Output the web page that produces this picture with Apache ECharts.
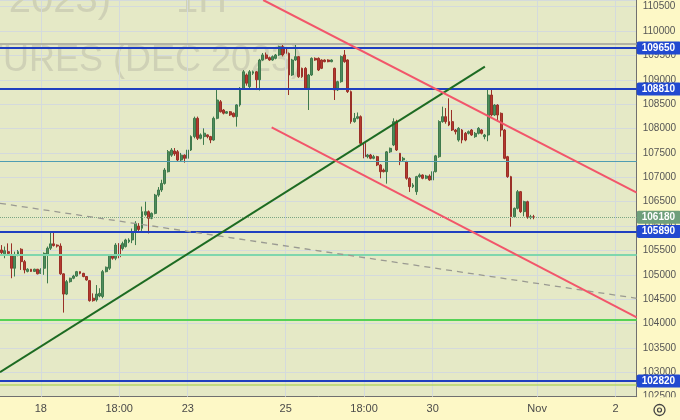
<!DOCTYPE html>
<html><head><meta charset="utf-8">
<script src="https://cdn.jsdelivr.net/npm/echarts@6/dist/echarts.min.js"></script>
<style>html,body{margin:0;padding:0;background:#fdf8c6;}#c{width:680px;height:420px;}</style>
</head><body><div id="c"></div>
<script>
// ---- data ----
const N_SLOTS = 195;
// [open, close, low, high]
const candles = [
[105510,105455,105420,105610],[105430,105495,105340,105580],[105475,105440,105420,105645],[105405,105135,104930,105645],
[105135,105405,104965,105475],[105405,105475,105380,105510],[105525,105270,105100,105545],[105270,105100,105030,105305],
[105070,105115,105050,105135],[105115,105070,105060,105120],[105070,105115,105060,105125],[105115,105020,105010,105120],
[105030,105100,105020,105135],[105135,105440,105000,105460],[105405,105545,104825,105580],[105545,105635,105510,105885],
[105635,105600,105580,105885],[105610,105590,105560,105625],[105590,105020,105000,105645],[105020,104605,104225,105030],
[104605,104860,104585,104895],[104860,104930,104840,104940],[104930,104975,104910,105000],[104975,105065,104960,105080],
[105065,105030,105010,105070],[105030,104965,104950,105040],[104965,104895,104880,104975],[104880,104470,104450,104895],
[104520,104470,104450,104620],[104485,104605,104450,104790],[104565,104620,104540,104725],[104555,105065,104520,105100],
[105065,105155,105050,105170],[105135,105405,105100,105420],[105405,105340,105310,105420],[105340,105610,105300,105650],
[105610,105370,105340,105650],[105540,105640,105500,105680],[105580,105715,105560,105740],[105680,105715,105650,105750],
[105715,105885,105650,105950],[105885,106055,105610,106100],[106000,105930,105880,106060],[105955,106295,105900,106400],
[106230,106295,106200,106500],[106295,106160,105850,106320],[106160,106260,106140,106280],[106260,106635,106240,106660],
[106635,106740,106600,106800],[106740,106875,106700,106950],[106875,107150,106850,107190],[107115,107525,107100,107560],
[107455,107560,107420,107600],[107540,107480,107440,107600],[107525,107355,107330,107560],[107355,107455,107330,107500],
[107455,107390,107300,107470],[107390,107560,107185,107600],[107560,107835,107540,107860],[107835,108210,107800,108245],
[108210,107800,107765,108245],[107800,107870,107780,107900],[107835,107905,107665,108005],[107870,107835,107800,107880],
[107835,107765,107700,107850],[107765,108210,107750,108245],[108210,108585,108190,108790],[108550,108345,108330,108585],
[108380,108315,108290,108400],[108315,108345,108300,108360],[108345,108280,108260,108360],[108315,108245,108230,108330],
[108245,108485,108040,108500],[108485,108825,108450,108850],[108825,109165,108800,109200],[109100,108930,108880,109130],
[108860,109165,108830,109200],[109135,109165,109100,109190],[109165,109000,108790,109180],[109000,109405,108780,109430],
[109405,109510,109390,109550],[109510,109440,109420,109560],[109454,109406,109390,109475],[109406,109475,109390,109500],
[109440,109509,109420,109530],[109509,109680,109490,109700],[109680,109509,109480,109750],[109646,109543,109520,109714],
[109543,109099,108688,109560],[109099,109406,109080,109430],[109406,109475,109390,109714],[109475,109064,109040,109490],
[109235,109064,109040,109250],[109235,108825,108800,109260],[108825,109099,108381,109120],[109099,109440,109080,109460],
[109440,109406,109390,109460],[109440,109201,109180,109460],[109406,109235,109220,109420],[109406,109372,109360,109420],
[109406,109372,109360,109420],[109372,109406,109360,109420],[109235,108791,108586,109250],[108791,108962,108770,108980],
[108962,109475,108940,109500],[109509,109372,109350,109611],[109407,108757,108730,109420],[108757,108142,108100,108780],
[108142,108210,108120,108320],[108210,108244,108190,108330],[108244,107698,107680,108270],[107698,107424,107390,107720],
[107424,107458,107390,107480],[107458,107390,107370,107480],[107390,107424,107370,107460],[107424,107253,107230,107440],
[107253,107116,106980,107270],[107150,107116,107100,107180],[107116,107522,106870,107540],[107522,107595,107500,107610],
[107663,108142,107640,108210],[108142,107561,107540,108180],[107492,107322,107250,107500],[107356,107390,107320,107420],
[107322,106980,106950,107340],[106980,106809,106700,107000],[106809,106843,106780,106880],[106706,107014,106640,107030],
[107014,107048,106990,107080],[107048,106980,106960,107060],[106980,107027,106960,107050],[107027,106945,106930,107060],
[106945,107116,106930,107140],[107116,107440,107100,107460],[107423,108142,107400,108170],[108142,108244,108120,108449],
[108244,108142,108100,108420],[108142,108073,108050,108620],[108142,107970,107950,108381],[107970,107936,107880,107990],
[107765,108005,107731,108030],[107970,107765,107697,107990],[107902,107765,107740,107930],[107902,107936,107880,107960],
[107970,107868,107850,107990],[107834,107902,107810,107930],[107902,108005,107880,108030],[107970,107902,107880,107990],
[107834,107868,107780,107890],[107868,108688,107740,108825],[108688,108278,108250,108825],[108278,108483,108260,108500],
[108483,108278,108150,108500],[108312,107970,107834,108330],[107970,107389,107370,107990],[107423,107013,106990,107440],
[107013,106193,105988,107030],[106193,106364,106170,106380],[106364,106706,106340,106740],[106706,106296,106270,106720],
[106296,106500,106200,106520],[106500,106193,106150,106520],[106180,106190,106140,106230],[106190,106180,106140,106230]
];
const tickIdx  = [12, 36, 57, 87, 111, 132, 164, 188];
const tickText = ['18', '18:00', '23', '25', '18:00', '30', 'Nov', '2'];
const blueLevels = [109650, 108810, 105890, 102820];
const lastPrice = 106180;
const grayLevel = 109740, tealLevel = 107320, mintLevel = 105410, greenLevel = 104070, limeLevel = 102740;
const redUpper   = [[80.1, 110637], [194.5, 106685]];
const redLower   = [[82.7, 108026], [194.5, 104129]];
const greenTrend = [[-0.5, 103001], [148.0, 109269]];
const grayTrend  = [[-0.5, 106467], [194.5, 104519]];
const Y_MIN = 102500, Y_MAX = 110637, Y_STEP = 500;

// ---- chart ----
const cats = Array.from({length: N_SLOTS}, (_, i) => String(i));
const FONT = 'Liberation Sans';
const chart = echarts.init(document.getElementById('c'), null, {renderer: 'canvas'});

function badge(v, bg) {
  return {show: true, position: 'end', distance: 0, formatter: String(v), color: '#fff',
    fontWeight: 'bold', fontSize: 10, fontFamily: FONT, backgroundColor: bg,
    padding: [2, 6, 1, 5], borderRadius: 2};
}
const levelLines = [
  {yAxis: grayLevel, lineStyle: {color: '#b2b3a4', width: 2, type: 'solid'}, label: {show: false}},
  {yAxis: tealLevel, lineStyle: {color: '#4f9db3', width: 1, type: 'solid'}, label: {show: false}},
  {yAxis: mintLevel, lineStyle: {color: '#7fd6ad', width: 2, type: 'solid'}, label: {show: false}},
  {yAxis: greenLevel, lineStyle: {color: '#55d255', width: 2, type: 'solid'}, label: {show: false}},
  {yAxis: limeLevel, lineStyle: {color: '#b4d46a', width: 1.5, type: 'solid'}, label: {show: false}},
  {yAxis: lastPrice, lineStyle: {color: '#7aa584', width: 1, type: 'dotted'}, label: badge(lastPrice, '#6f9f7b')}
].concat(blueLevels.map(v => ({yAxis: v, lineStyle: {color: '#1f3fc0', width: 2, type: 'solid'}, label: badge(v, '#2149d0')})));

function trend(data, color, width, type) {
  return {type: 'line', xAxisIndex: 1, data: data, showSymbol: false, symbol: 'none', silent: true, z: 5,
    lineStyle: {color: color, width: width, type: type || 'solid'}, clip: true};
}

const option = {
  animation: false,
  backgroundColor: '#fdf8c6',
  textStyle: {fontFamily: FONT},
  grid: {left: 0, right: 43.3, top: 0, bottom: 23.3, show: true, backgroundColor: '#e5e9c6', borderWidth: 0},
  xAxis: [
    {type: 'category', data: cats, boundaryGap: true,
     axisLine: {show: true, onZero: false, lineStyle: {color: '#707070'}}, axisTick: {show: false},
     axisLabel: {interval: (i) => tickIdx.indexOf(i) >= 0,
                 formatter: (v) => { const k = tickIdx.indexOf(Number(v)); return k >= 0 ? tickText[k] : ''; },
                 color: '#4a4a4a', fontSize: 11, margin: 7, fontFamily: FONT},
     splitLine: {show: false}},
    {type: 'value', min: -0.5, max: N_SLOTS - 0.5, show: false,
     axisLine: {show: false, onZero: false}, splitLine: {show: false}}
  ],
  yAxis: {type: 'value', position: 'right', min: Y_MIN, max: Y_MAX, interval: Y_STEP, scale: false,
    axisLine: {show: true, onZero: false, lineStyle: {color: '#707070'}}, axisTick: {show: false},
    axisLabel: {color: '#555', fontSize: 10, margin: 6, fontFamily: FONT, showMaxLabel: false,
                formatter: (v) => (v % Y_STEP === 0 ? String(v) : '')},
    splitLine: {lineStyle: {color: '#d4dadc', width: 1}}},
  graphic: [
    {type: 'text', z: 1, silent: true, style: {text: 'RTS FUTURES (DEC 2023)', x: 111, y: 1, align: 'right', verticalAlign: 'middle',
      font: '40px "Liberation Sans"', fill: '#cfd1b6'}},
    {type: 'text', z: 1, silent: true, style: {text: '1H', x: 176, y: 1, align: 'left', verticalAlign: 'middle',
      font: '40px "Liberation Sans"', fill: '#cfd1b6'}},
    {type: 'text', z: 1, silent: true, style: {text: 'RTS INDEX FUTURES (DEC 2023)', x: 303, y: 61, align: 'right', verticalAlign: 'middle',
      font: '36px "Liberation Sans"', fill: '#cfd1b6'}},
    {type: 'rect', z: 50, silent: true, shape: {x: 637.2, y: 397.2, width: 43, height: 23}, style: {fill: '#fdf8c6'}},
    {type: 'circle', z: 51, silent: true, shape: {cx: 659.5, cy: 410, r: 5.5}, style: {fill: 'none', stroke: '#444', lineWidth: 1.3}},
    {type: 'circle', z: 51, silent: true, shape: {cx: 659.5, cy: 410, r: 2}, style: {fill: 'none', stroke: '#444', lineWidth: 1.2}}
  ],
  series: [
    {type: 'line', xAxisIndex: 1, data: [], silent: true, z: 1,
     markLine: {silent: true, symbol: ['none', 'none'], animation: false, label: {show: false},
       lineStyle: {color: '#d4dadc', width: 1, type: 'solid'},
       data: tickIdx.map(i => ({xAxis: i}))}},
    {type: 'candlestick', data: candles, z: 3, barWidth: 2.4,
     itemStyle: {color: '#4f8c5c', color0: '#b5382f', borderColor: '#3f7a4c', borderColor0: '#9a3027', borderWidth: 1}},
    {type: 'line', xAxisIndex: 1, data: [], silent: true, z: 4,
     markLine: {silent: true, symbol: ['none', 'none'], animation: false, data: levelLines}},
    trend(grayTrend, '#9a9a92', 1.3, [6, 5]),
    trend(greenTrend, '#1d6b22', 2),
    trend(redUpper, '#f2566a', 2),
    trend(redLower, '#f2566a', 2)
  ]
};
chart.setOption(option);
</script>
</body></html>
